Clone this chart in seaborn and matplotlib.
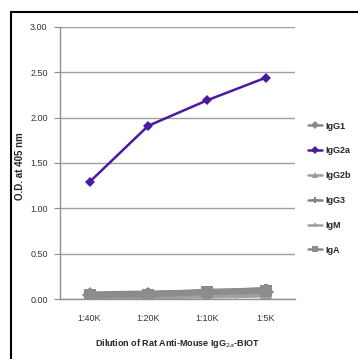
import matplotlib
matplotlib.use("Agg")
import matplotlib.pyplot as plt
import matplotlib.patches as mpatches
import pandas as pd
import seaborn as sns

dilutions = ["1:40K", "1:20K", "1:10K", "1:5K"]
isotypes = ["IgG1", "IgG2a", "IgG2b", "IgG3", "IgM", "IgA"]

igg1 = [0.04, 0.05, 0.06, 0.08]
igg2a = [1.29, 1.91, 2.19, 2.44]
igg2b = [0.03, 0.04, 0.05, 0.07]
igg3 = [0.05, 0.06, 0.07, 0.10]
igm = [0.02, 0.03, 0.04, 0.05]
iga = [0.04, 0.05, 0.08, 0.09]

y_ticks = [0.0, 0.5, 1.0, 1.5, 2.0, 2.5, 3.0]

rows = []
for name, vals in zip(isotypes, [igg1, igg2a, igg2b, igg3, igm, iga]):
    for d, v in zip(dilutions, vals):
        rows.append({"dilution": d, "od": v, "Isotype": name})
df = pd.DataFrame(rows)

palette = {
    "IgG1": "#8a8a8a",
    "IgG2a": "#4a1aa0",
    "IgG2b": "#9a9a9a",
    "IgG3": "#858585",
    "IgM": "#a0a0a0",
    "IgA": "#8c8c8c",
}
markers = {
    "IgG1": "D",
    "IgG2a": "D",
    "IgG2b": "^",
    "IgG3": "P",
    "IgM": "*",
    "IgA": "s",
}

sns.set_style("white")
plt.rcParams["font.family"] = ["Liberation Sans Narrow", "Liberation Sans", "DejaVu Sans"]

fig = plt.figure(figsize=(3.58, 3.59), dpi=100)
ax = fig.add_axes([0.168, 0.167, 0.656, 0.758])

sns.lineplot(
    data=df,
    x="dilution",
    y="od",
    hue="Isotype",
    style="Isotype",
    palette=palette,
    markers=markers,
    dashes=False,
    linewidth=4.5,
    markersize=8,
    markeredgewidth=0,
    ax=ax,
)
# purple line a bit thinner
for line in ax.lines:
    if line.get_color() == "#4a1aa0":
        line.set_linewidth(1.8)
        line.set_markersize(5)
        line.set_zorder(5)

ax.set_xlim(-0.5, 3.5)
ax.set_ylim(0, 3.0)
ax.set_yticks(y_ticks)
ax.set_yticklabels(["%.2f" % t for t in y_ticks], fontsize=6.5, color="#333333")
ax.tick_params(axis="x", labelsize=6.5, labelcolor="#333333", length=0, pad=11)
ax.tick_params(axis="y", length=4, color="#888888", direction="out", left=True, pad=5)
ax.set_xticks([0.5, 1.5, 2.5], minor=True)
ax.tick_params(axis="x", which="minor", length=3, color="#888888", direction="in", bottom=True)

ax.yaxis.grid(True, color="#a0a0a0", linewidth=1.0)
ax.set_axisbelow(True)
for s in ["top", "right"]:
    ax.spines[s].set_visible(False)
for s in ["left", "bottom"]:
    ax.spines[s].set_color("#909090")
    ax.spines[s].set_linewidth(1.0)

ax.set_xlabel("Dilution of Rat Anti-Mouse IgG$_{2a}$-BIOT", fontsize=6.5, fontweight="bold", labelpad=10)
ax.set_ylabel("O.D. at 405 nm", fontsize=7, fontweight="bold")
ax.yaxis.set_label_coords(-0.15, 0.49)

handles, labels = ax.get_legend_handles_labels()
for h in handles:
    h.set_linewidth(1.8)
    h.set_markersize(4)
ax.legend(
    handles, labels,
    loc="center left",
    bbox_to_anchor=(1.02, 0.408),
    frameon=False,
    prop={"weight": "bold", "size": 6.5},
    handlelength=1.6,
    handletextpad=0.3,
    labelspacing=1.75,
)

# outer frame
fig.patches.append(mpatches.Rectangle((0.031, -0.02), 1.0, 0.987, transform=fig.transFigure,
                                      fill=False, edgecolor="black", linewidth=1.5))

plt.savefig("out.png", dpi=100)
